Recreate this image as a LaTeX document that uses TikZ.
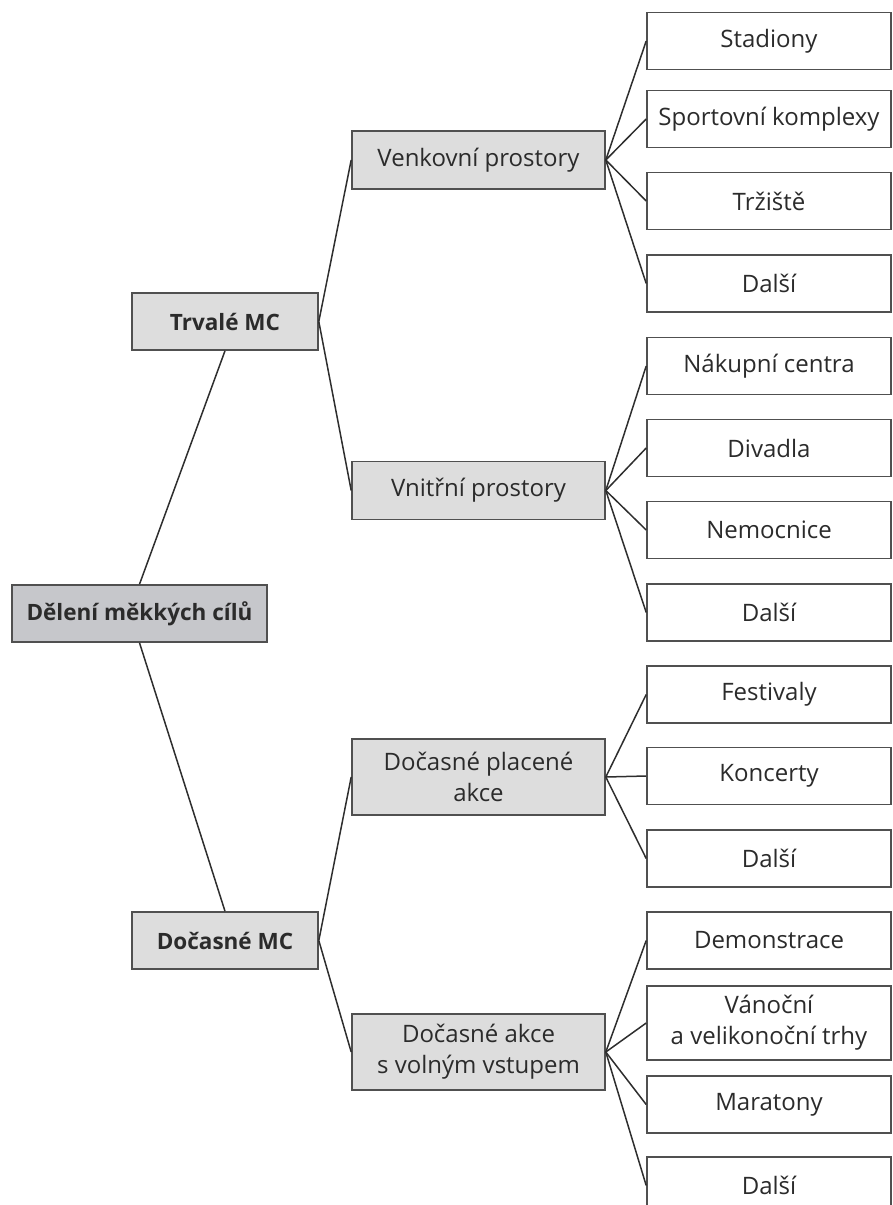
\documentclass[tikz,border=0pt]{standalone}
\usepackage{fontspec}
\setmainfont{Open Sans}
\definecolor{txt}{HTML}{2B2B2B}
\definecolor{edgec}{HTML}{505050}
\definecolor{linec}{HTML}{2E2E2E}
\definecolor{rootfill}{HTML}{C6C7CB}
\definecolor{midfill}{HTML}{DDDDDD}
\tikzset{
  box/.style={draw=edgec, line width=1.6pt, inner sep=0pt, align=center,
    text=txt, font=\fontsize{24}{31}\selectfont},
  rootbox/.style={box, fill=rootfill, font=\fontsize{22.5}{30}\selectfont\bfseries,
    minimum width=255pt, minimum height=57pt},
  lvlone/.style={box, fill=midfill, font=\fontsize{22.5}{30}\selectfont\bfseries,
    minimum width=186pt, minimum height=57pt},
  lvltwo/.style={box, fill=midfill, minimum width=253pt, minimum height=58pt},
  leaf/.style={box, fill=white, minimum width=244pt, minimum height=57pt},
  conn/.style={draw=linec, line width=1.5pt}
}
\begin{document}
\begin{tikzpicture}[x=1pt, y=-1pt]
\useasboundingbox (0,0) rectangle (893,1205);
% root and first level
\node[rootbox] (root) at (139.5,613.5) {Dělení měkkých cílů};
\node[lvlone] (trv) at (225,321.5) {Trvalé MC};
\node[lvlone] (doc) at (225,940.5) {Dočasné MC};
% second level
\node[lvltwo] (venk) at (478.5,160) {Venkovní prostory};
\node[lvltwo] (vnit) at (478.5,490.5) {Vnitřní prostory};
\node[lvltwo, minimum height=76pt] (plac) at (478.5,777) {Dočasné placené\\akce};
\node[lvltwo, minimum height=76pt] (voln) at (478.5,1052) {Dočasné akce\\s volným vstupem};
% leaves
\node[leaf] (l1) at (769,41) {Stadiony};
\node[leaf] (l2) at (769,119) {Sportovní komplexy};
\node[leaf] (l3) at (769,201) {Tržiště};
\node[leaf] (l4) at (769,283.5) {Další};
\node[leaf] (l5) at (769,366) {Nákupní centra};
\node[leaf] (l6) at (769,448) {Divadla};
\node[leaf] (l7) at (769,530) {Nemocnice};
\node[leaf] (l8) at (769,612.5) {Další};
\node[leaf] (l9) at (769,694.5) {Festivaly};
\node[leaf] (l10) at (769,776) {Koncerty};
\node[leaf] (l11) at (769,858.5) {Další};
\node[leaf] (l12) at (769,940.5) {Demonstrace};
\node[leaf, minimum height=74pt] (l13) at (769,1023) {Vánoční\\a velikonoční trhy};
\node[leaf] (l14) at (769,1104.5) {Maratony};
\node[leaf] (l15) at (769,1185.5) {Další};
% connectors
\draw[conn] (root.north) -- (trv.south);
\draw[conn] (root.south) -- (doc.north);
\draw[conn] (trv.east) -- (venk.west);
\draw[conn] (trv.east) -- (vnit.west);
\draw[conn] (doc.east) -- (plac.west);
\draw[conn] (doc.east) -- (voln.west);
\foreach \l in {l1,l2,l3,l4} \draw[conn] (venk.east) -- (\l.west);
\foreach \l in {l5,l6,l7,l8} \draw[conn] (vnit.east) -- (\l.west);
\foreach \l in {l9,l10,l11} \draw[conn] (plac.east) -- (\l.west);
\foreach \l in {l12,l13,l14,l15} \draw[conn] (voln.east) -- (\l.west);
\end{tikzpicture}
\end{document}
